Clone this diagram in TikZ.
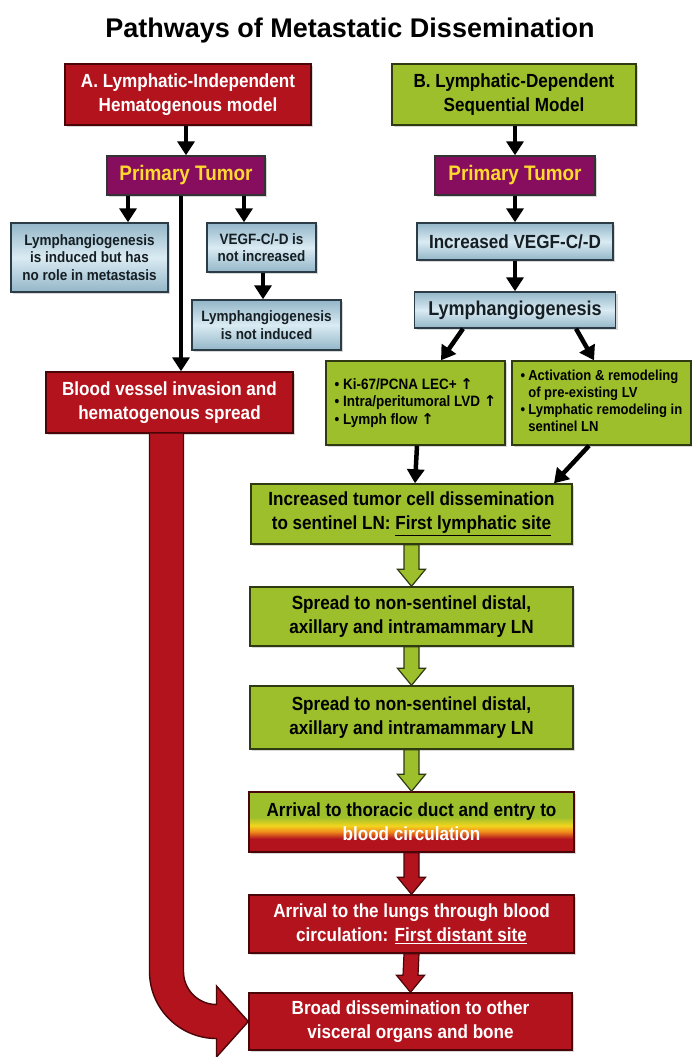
\documentclass[tikz,border=0pt]{standalone}
\usepackage{fontspec}
\setmainfont{Liberation Sans}[FakeStretch=0.9]
\newfontfamily\titlefont{Liberation Sans}
\newfontfamily\djv{DejaVu Sans}
\usetikzlibrary{arrows.meta,calc,shadows}
\definecolor{myred}{HTML}{B3131D}
\definecolor{myredd}{HTML}{4A0508}
\definecolor{mygreen}{HTML}{9CBF2B}
\definecolor{mygreend}{HTML}{2F3A12}
\definecolor{mypurple}{HTML}{870E5E}
\definecolor{myyellow}{HTML}{FFD92E}
\definecolor{blueA}{HTML}{93B6C8}
\definecolor{blueB}{HTML}{DAEBF3}
\definecolor{blued}{HTML}{2B3C46}
\definecolor{myorange}{HTML}{F08A1C}
\definecolor{myyel}{HTML}{F2D51E}
\pgfdeclareverticalshading{thor}{100bp}{color(0bp)=(myred); color(25bp)=(myred); color(36bp)=(myred); color(42bp)=(myorange); color(47bp)=(myyel); color(54bp)=(mygreen); color(100bp)=(mygreen)}
\newcommand\fbig{\fontsize{19}{24}\selectfont\bfseries}
\newcommand\fsmall{\fontsize{15}{17.5}\selectfont\bfseries}
\newcommand\fpt{\fontsize{21}{24}\selectfont\bfseries}
\newcommand\uparr{{\djv\bfseries ↑}}
\newcommand\blockarr[3]{%
  \path (#1.south) coordinate (ba1) (#2.north) coordinate (ba2);
  \filldraw[#3] ($(ba1)+(-7.5,0)$) -- ($(ba2)+(-7.5,-17)$) -- ($(ba2)+(-14,-17)$) -- (ba2)
    -- ($(ba2)+(14,-17)$) -- ($(ba2)+(7.5,-17)$) -- ($(ba1)+(7.5,0)$) -- cycle;}
\begin{document}
\begin{tikzpicture}[x=1pt,y=-1pt,
  box/.style={draw, line width=1.4pt, inner sep=0pt, align=center,
    drop shadow={shadow xshift=2pt, shadow yshift=-2pt, opacity=0.3}},
  redbox/.style={box, fill=myred, draw=myredd, text=white},
  greenbox/.style={box, fill=mygreen, draw=mygreend, text=black},
  ptbox/.style={box, fill=mypurple, draw=black!80, text=myyellow},
  bluebox/.style={box, top color=blueA, bottom color=blueA, middle color=blueB, draw=blued, text=blued!50!black},
  barrow/.style={line width=4.5pt, -{Triangle[width=17pt,length=14pt]}},
  garrow/.style={fill=mygreen, draw=mygreend, line width=1.2pt, line join=miter},
  rarrow/.style={fill=myred, draw=myredd, line width=1.2pt, line join=miter},
  bigarrow/.style={fill=myred, draw=myredd, line width=1.4pt, line join=miter}
]
\fill[white] (0,0) rectangle (692,1057);
\useasboundingbox (0,0) rectangle (692,1057);

\node[font=\titlefont\fontsize{27}{30}\selectfont\bfseries] (title) at (350,31) {Pathways of Metastatic Dissemination};

% column A
\node[redbox, minimum width=246, minimum height=61, font=\fbig] (A) at (188,94.5) {A. Lymphatic-Independent\\Hematogenous model};
\node[ptbox, minimum width=158, minimum height=39, font=\fpt] (ptA) at (186,175.5) {Primary Tumor};
\node[bluebox, minimum width=157, minimum height=69, font=\fsmall] (L1) at (89.5,257.5) {Lymphangiogenesis\\is induced but has\\no role in metastasis};
\node[bluebox, minimum width=109, minimum height=49, font=\fsmall] (M1) at (261.5,247.5) {VEGF-C/-D is\\not increased};
\node[bluebox, minimum width=149, minimum height=50, font=\fsmall] (M2) at (266.5,325) {Lymphangiogenesis\\is not induced};
\node[redbox, minimum width=247, minimum height=61, font=\fbig] (BV) at (169.5,402.5) {Blood vessel invasion and\\hematogenous spread};

% column B
\node[greenbox, minimum width=244, minimum height=61, font=\fbig] (B) at (514,94.5) {B. Lymphatic-Dependent\\Sequential Model};
\node[ptbox, minimum width=160, minimum height=39, font=\fpt] (ptB) at (515,175.5) {Primary Tumor};
\node[bluebox, minimum width=196, minimum height=37, font=\fbig] (VEGF) at (515,241.5) {Increased VEGF-C/-D};
\node[bluebox, minimum width=201, minimum height=36, font=\fontsize{20}{24}\selectfont\bfseries] (LYM) at (515,310) {Lymphangiogenesis};
\node[greenbox, minimum width=179, minimum height=84, font=\fsmall, align=left] (KI) at (415.5,403)
  {• Ki-67/PCNA LEC+ \uparr\\• Intra/peritumoral LVD \uparr\\• Lymph flow \uparr};
\node[greenbox, minimum width=179, minimum height=84, font=\fontsize{14.5}{17}\selectfont\bfseries, align=left] (ACT) at (601.5,403)
  {\begin{tabular}{@{}l@{\hspace{3pt}}l@{}}•&Activation \& remodeling\\&of pre-existing LV\\•&Lymphatic remodeling in\\&sentinel LN\end{tabular}};
\node[greenbox, minimum width=321, minimum height=60, font=\fbig] (ITC) at (411.5,514) {Increased tumor cell dissemination\\to sentinel LN: \underline{First lymphatic site}};
\node[greenbox, minimum width=323, minimum height=59, font=\fbig] (SP1) at (411.5,616.5) {Spread to non-sentinel distal,\\axillary and intramammary LN};
\node[greenbox, minimum width=323, minimum height=63, font=\fbig] (SP2) at (411.5,717.5) {Spread to non-sentinel distal,\\axillary and intramammary LN};
\node[box, shading=thor, draw=myredd, minimum width=325, minimum height=60, font=\fbig] (TH) at (411.5,822) {Arrival to thoracic duct and entry to\\\textcolor{white}{blood circulation}};
\node[redbox, minimum width=325, minimum height=58, font=\fbig] (LU) at (411.5,924) {Arrival to the lungs through blood\\circulation: \underline{First distant site}};
\node[redbox, minimum width=323, minimum height=57, font=\fbig] (BR) at (410.5,1021.5) {Broad dissemination to other\\visceral organs and bone};

% black arrows
\draw[barrow] (A.south -| ptA.north) -- (ptA.north);
\draw[barrow] (B.south -| ptB.north) -- (ptB.north);
\draw[barrow] ($(ptA.south)+(-58,0)$) -- ($(L1.north)+(38.5,0)$);
\draw[barrow] ($(ptA.south)+(58,0)$) -- ($(M1.north)+(-17.5,0)$);
\draw[barrow] ($(ptA.south)+(-5,0)$) -- ($(BV.north)+(11.5,0)$);
\draw[barrow] ($(M1.south)+(1.5,0)$) -- ($(M2.north)+(-3.5,0)$);
\draw[barrow] (ptB.south) -- (VEGF.north);
\draw[barrow] (VEGF.south) -- (LYM.north);
\draw[barrow] ($(LYM.south)+(-52,0)$) -- ($(KI.north)+(25.5,0)$);
\draw[barrow] ($(LYM.south)+(61,0)$) -- ($(ACT.north)+(-7.5,0)$);
\draw[barrow] ($(KI.south)+(1.5,0)$) -- ($(ITC.north)+(3.5,0)$);
\draw[barrow] ($(ACT.south)+(-12.5,0)$) -- ($(ITC.north)+(142.5,0)$);

% block arrows
\blockarr{ITC}{SP1}{garrow}
\blockarr{SP1}{SP2}{garrow}
\blockarr{SP2}{TH}{garrow}
\blockarr{TH}{LU}{rarrow}
\blockarr{LU}{BR}{rarrow}

% big curved arrow from BV to BR
\coordinate (tip) at (BR.west);
\filldraw[bigarrow] (149.5,433) -- (149.5,971.5) arc[start angle=180, end angle=90, radius=67]
  -- (216.5,1057) -- (tip) -- (216.5,986) -- (216.5,1004.5)
  arc[start angle=90, end angle=180, radius=33] -- (183.5,433) -- cycle;
\end{tikzpicture}
\end{document}
